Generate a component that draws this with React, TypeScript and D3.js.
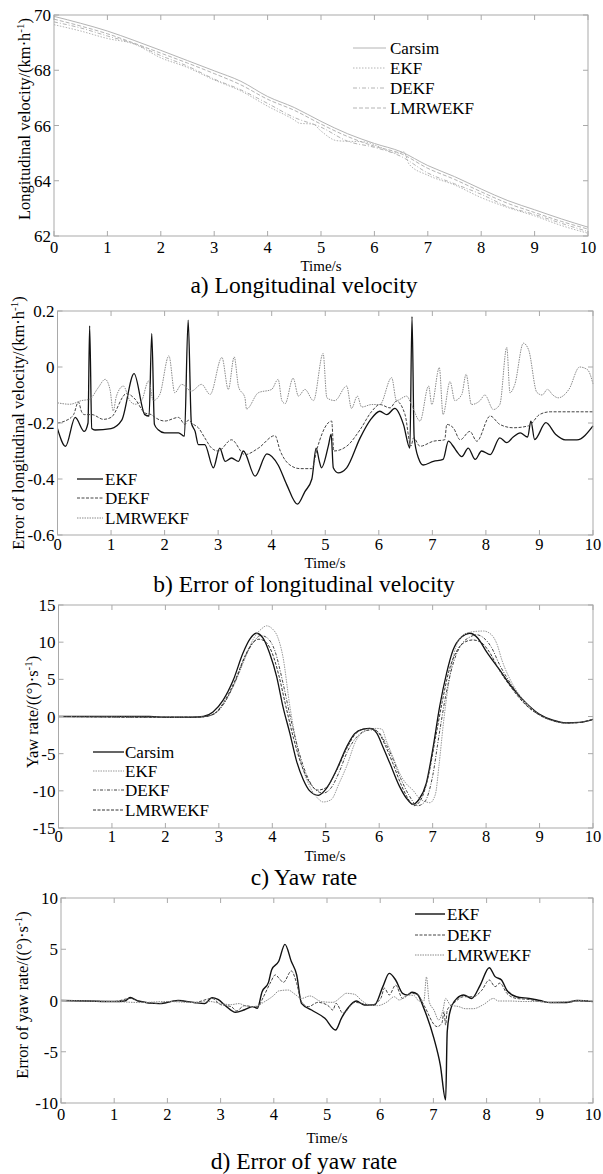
import React from 'react';
import * as d3 from 'd3';

const timeTicks = [0, 1, 2, 3, 4, 5, 6, 7, 8, 9, 10];

// a) longitudinal velocity
const velTicks = [62, 64, 66, 68, 70];
const velT = [0, 0.5, 1, 1.5, 2, 2.5, 3, 3.5, 4, 4.5, 5, 5.5, 6, 6.5, 7, 7.5, 8, 8.5, 9, 9.5, 10];
const velCarsim = [69.95, 69.7, 69.42, 69.08, 68.72, 68.35, 67.98, 67.6, 67.05, 66.65, 66.15, 65.7, 65.35, 65.05, 64.55, 64.15, 63.7, 63.28, 62.95, 62.62, 62.32];
const velLmr = [69.85, 69.6, 69.32, 68.98, 68.62, 68.26, 67.88, 67.47, 66.95, 66.55, 66.05, 65.6, 65.25, 64.98, 64.45, 64.05, 63.6, 63.18, 62.85, 62.53, 62.25];
const velDekf = [69.75, 69.53, 69.24, 68.96, 68.53, 68.15, 67.68, 67.29, 66.8, 66.29, 65.94, 65.43, 65.21, 64.88, 64.28, 63.89, 63.51, 63.06, 62.78, 62.46, 62.16];
const velEkfT = [0, 0.5, 1, 1.5, 2, 2.5, 3, 3.5, 4, 4.5, 4.6, 4.85, 5.0, 5.3, 5.85, 6.0, 6.45, 6.55, 6.65, 7, 7.5, 8, 8.5, 9, 9.5, 10];
const velEkf = [69.65, 69.42, 69.15, 68.95, 68.45, 68.1, 67.65, 67.25, 66.7, 66.2, 66.08, 66.05, 65.8, 65.45, 65.4, 65.3, 65.0, 65.05, 64.6, 64.2, 63.85, 63.39, 63.03, 62.73, 62.38, 62.1];

// b) error of longitudinal velocity
const velErrTicks = [-0.6, -0.4, -0.2, 0, 0.2];
const velErrEkfT = [0, 0.15, 0.33, 0.5, 0.57, 0.6, 0.64, 0.7, 1.0, 1.2, 1.43, 1.63, 1.71, 1.76, 1.81, 1.88, 2.0, 2.26, 2.37, 2.44, 2.5, 2.57, 2.63, 2.75, 2.91, 3.03, 3.13, 3.25, 3.38, 3.47, 3.69, 3.91, 4.12, 4.28, 4.48, 4.62, 4.75, 4.83, 4.89, 4.93, 5.06, 5.11, 5.15, 5.24, 5.4, 5.65, 5.84, 6.02, 6.15, 6.3, 6.46, 6.58, 6.62, 6.66, 6.74, 6.83, 7.02, 7.2, 7.3, 7.39, 7.45, 7.55, 7.67, 7.8, 7.92, 8.08, 8.26, 8.39, 8.51, 8.64, 8.78, 8.84, 8.91, 9.12, 9.3, 9.48, 9.7, 10];
const velErrEkf = [-0.22, -0.283, -0.18, -0.23, -0.2, 0.147, -0.22, -0.225, -0.22, -0.19, -0.024, -0.17, -0.175, 0.12, -0.205, -0.224, -0.235, -0.235, -0.247, 0.167, -0.2, -0.23, -0.277, -0.277, -0.36, -0.29, -0.337, -0.325, -0.337, -0.3, -0.39, -0.31, -0.35, -0.42, -0.49, -0.445, -0.4, -0.29, -0.337, -0.36, -0.28, -0.24, -0.36, -0.378, -0.36, -0.254, -0.19, -0.158, -0.17, -0.148, -0.205, -0.29, 0.18, -0.25, -0.325, -0.35, -0.337, -0.33, -0.265, -0.283, -0.3, -0.32, -0.29, -0.33, -0.3, -0.313, -0.253, -0.27, -0.25, -0.235, -0.25, -0.193, -0.259, -0.199, -0.24, -0.26, -0.26, -0.21];
const velErrDekfT = [0, 0.14, 0.3, 0.39, 0.45, 0.5, 0.64, 0.86, 1.0, 1.29, 1.45, 1.63, 1.75, 1.82, 2.0, 2.26, 2.38, 2.44, 2.54, 2.63, 2.75, 2.88, 3.0, 3.25, 3.5, 3.75, 4.06, 4.16, 4.34, 4.53, 4.75, 4.85, 5.03, 5.12, 5.16, 5.4, 5.65, 5.87, 6.02, 6.21, 6.33, 6.49, 6.6, 6.65, 6.77, 7.02, 7.23, 7.27, 7.39, 7.52, 7.7, 7.83, 8.08, 8.26, 8.51, 8.8, 9.0, 9.2, 9.6, 10];
const velErrDekf = [-0.2, -0.193, -0.17, -0.125, -0.16, -0.17, -0.17, -0.187, -0.18, -0.095, -0.115, -0.164, -0.17, -0.18, -0.193, -0.18, -0.205, -0.19, -0.205, -0.217, -0.253, -0.29, -0.3, -0.26, -0.313, -0.29, -0.245, -0.3, -0.35, -0.363, -0.363, -0.29, -0.205, -0.193, -0.3, -0.283, -0.224, -0.158, -0.134, -0.146, -0.122, -0.17, -0.283, -0.253, -0.283, -0.265, -0.26, -0.205, -0.217, -0.26, -0.23, -0.265, -0.175, -0.205, -0.217, -0.21, -0.17, -0.16, -0.16, -0.16];
const velErrLmrT = [0, 0.23, 0.45, 0.6, 0.76, 0.89, 0.98, 1.04, 1.1, 1.23, 1.35, 1.45, 1.57, 1.7, 1.79, 1.91, 2.08, 2.19, 2.32, 2.5, 2.69, 2.85, 3.07, 3.19, 3.3, 3.38, 3.5, 3.53, 3.75, 4.0, 4.12, 4.19, 4.25, 4.4, 4.5, 4.62, 4.78, 4.96, 5.03, 5.18, 5.4, 5.49, 5.6, 5.68, 5.87, 6.02, 6.24, 6.33, 6.52, 6.61, 6.77, 6.93, 6.99, 7.13, 7.2, 7.33, 7.42, 7.55, 7.63, 7.73, 7.89, 7.98, 8.14, 8.26, 8.39, 8.45, 8.54, 8.7, 8.8, 8.95, 9.05, 9.15, 9.25, 9.35, 9.55, 9.75, 9.9, 10];
const velErrLmr = [-0.128, -0.133, -0.12, -0.115, -0.074, -0.044, -0.08, -0.157, -0.104, -0.068, -0.12, -0.133, -0.12, -0.05, -0.12, -0.098, 0.04, -0.092, -0.062, -0.086, -0.062, -0.098, 0.034, -0.08, 0.036, -0.07, -0.11, -0.15, -0.092, -0.08, -0.044, -0.12, -0.131, -0.04, -0.104, -0.08, -0.12, 0.048, -0.11, -0.12, -0.068, -0.148, -0.104, -0.143, -0.134, -0.134, -0.038, -0.12, -0.104, -0.134, -0.193, -0.068, -0.134, -0.002, -0.17, -0.052, -0.12, -0.098, -0.026, -0.134, -0.12, -0.1, -0.152, -0.134, 0.07, -0.092, -0.062, 0.085, 0.06, -0.09, -0.1, -0.08, -0.1, -0.11, -0.08, 0.0, -0.01, -0.06];

// c) yaw rate
const yawTicks = [-15, -10, -5, 0, 5, 10, 15];
const yawCarsimT = [0, 1.7, 2.0, 2.5, 2.71, 2.89, 3.08, 3.27, 3.45, 3.58, 3.7, 3.83, 3.95, 4.08, 4.2, 4.33, 4.45, 4.58, 4.7, 4.86, 5.01, 5.2, 5.39, 5.54, 5.7, 5.82, 5.95, 6.07, 6.2, 6.38, 6.51, 6.63, 6.74, 6.88, 7.01, 7.13, 7.26, 7.38, 7.54, 7.69, 7.85, 8.0, 8.25, 8.5, 8.75, 9.0, 9.25, 9.5, 9.75, 10];
const yawCarsim = [0, 0, -0.1, -0.1, 0, 0.6, 2.2, 4.9, 8.5, 10.4, 11.2, 10.5, 8.5, 5.4, 1.3, -2.3, -5.9, -8.5, -10.0, -10.6, -9.7, -7.2, -4.1, -2.3, -1.7, -1.6, -2.2, -4.1, -6.3, -9.4, -11.0, -11.8, -11.2, -9.0, -4.1, 1.3, 5.8, 8.9, 10.7, 11.2, 10.5, 8.8, 6.3, 3.8, 1.8, 0.3, -0.5, -0.85, -0.8, -0.4];
const yawEkfT = [0, 2.5, 2.75, 2.95, 3.1, 3.3, 3.5, 3.65, 3.8, 3.89, 4.0, 4.1, 4.2, 4.33, 4.51, 4.7, 4.85, 4.95, 5.1, 5.25, 5.39, 5.57, 5.79, 5.95, 6.05, 6.13, 6.25, 6.38, 6.5, 6.63, 6.75, 6.88, 6.95, 7.05, 7.12, 7.2, 7.3, 7.4, 7.55, 7.75, 7.95, 8.1, 8.2, 8.3, 8.5, 8.75, 9.0, 9.25, 9.5, 9.75, 10];
const yawEkf = [0, -0.1, 0, 0.5, 1.8, 4.5, 8.0, 10.5, 11.8, 12.2, 11.8, 10.7, 8.0, 1.3, -5.4, -9.4, -11.0, -11.5, -11.2, -9.0, -6.7, -3.2, -1.8, -1.6, -1.7, -3.2, -5.3, -7.6, -9.0, -9.9, -11.0, -11.5, -11.6, -10.5, -6.5, -1.0, 4.5, 8.5, 10.8, 11.4, 11.5, 11.0, 9.8, 7.5, 4.3, 1.8, 0.2, -0.6, -0.9, -0.8, -0.4];
const yawDekfT = [0, 2.5, 2.75, 2.95, 3.1, 3.3, 3.5, 3.65, 3.78, 3.9, 4.05, 4.2, 4.35, 4.5, 4.65, 4.8, 4.95, 5.1, 5.25, 5.4, 5.6, 5.75, 5.88, 6.0, 6.12, 6.25, 6.4, 6.55, 6.72, 6.85, 7.0, 7.12, 7.25, 7.4, 7.55, 7.7, 7.82, 7.95, 8.1, 8.25, 8.5, 8.75, 9.0, 9.25, 9.5, 9.75, 10];
const yawDekf = [0, -0.1, 0, 0.5, 1.8, 4.6, 8.2, 10.0, 10.9, 10.6, 8.8, 4.5, -0.5, -4.8, -8.0, -9.8, -10.3, -9.6, -7.5, -4.8, -2.6, -1.9, -1.8, -2.2, -3.6, -5.6, -8.3, -10.5, -12.0, -11.5, -8.0, -2.5, 3.0, 7.5, 9.8, 10.7, 11.0, 10.6, 9.3, 7.0, 4.0, 1.6, 0.2, -0.55, -0.9, -0.8, -0.4];
const yawLmrT = [0, 2.5, 2.75, 2.95, 3.1, 3.3, 3.5, 3.62, 3.75, 3.88, 4.0, 4.12, 4.25, 4.4, 4.55, 4.7, 4.85, 5.0, 5.2, 5.4, 5.55, 5.7, 5.85, 6.0, 6.12, 6.25, 6.4, 6.52, 6.65, 6.78, 6.92, 7.05, 7.18, 7.3, 7.45, 7.6, 7.75, 7.9, 8.05, 8.25, 8.5, 8.75, 9.0, 9.25, 9.5, 9.75, 10];
const yawLmr = [0, -0.1, 0, 0.6, 2.0, 4.8, 8.3, 9.8, 10.4, 10.0, 8.5, 5.6, 1.5, -3.0, -6.6, -8.9, -9.9, -9.6, -7.3, -4.2, -2.4, -1.7, -1.6, -2.3, -4.0, -6.2, -9.0, -10.8, -12.0, -11.2, -8.0, -3.0, 2.0, 6.0, 8.8, 10.0, 10.3, 10.0, 8.8, 6.2, 3.6, 1.5, 0.2, -0.55, -0.85, -0.8, -0.4];

// d) error of yaw rate
const yawErrTicks = [-10, -5, 0, 5, 10];
const yawErrEkfT = [0, 0.5, 1.0, 1.2, 1.3, 1.45, 1.85, 2.2, 2.5, 2.7, 2.84, 2.95, 3.09, 3.28, 3.45, 3.6, 3.69, 3.78, 3.9, 3.96, 4.09, 4.21, 4.33, 4.43, 4.52, 4.71, 4.96, 5.16, 5.27, 5.39, 5.55, 5.7, 5.89, 6.05, 6.17, 6.29, 6.42, 6.51, 6.6, 6.7, 6.82, 7.01, 7.13, 7.23, 7.26, 7.32, 7.44, 7.57, 7.72, 7.88, 8.05, 8.16, 8.28, 8.38, 8.56, 8.8, 9.0, 9.2, 9.5, 9.7, 10];
const yawErrEkf = [0, -0.05, -0.1, -0.05, 0.3, -0.05, -0.3, 0, -0.2, -0.3, 0.28, 0.1, -0.5, -1.15, -0.9, -0.6, -0.76, 0.86, 1.77, 3.0, 3.8, 5.48, 3.8, 2.5, -0.28, -0.93, -1.74, -2.88, -1.74, -0.76, -0.05, -0.44, -0.44, 1.35, 2.65, 2.0, 0.7, 0.54, 0.8, 0.6, -0.76, -3.7, -6.3, -9.7, -3.04, -0.93, 0.2, 0.54, 0.2, 1.5, 3.2, 2.33, 2.0, 1.0, 0.37, 0.2, 0, -0.2, -0.2, 0, -0.1];
const yawErrDekfT = [0, 0.5, 1.0, 1.3, 1.45, 1.85, 2.2, 2.5, 2.84, 3.0, 3.2, 3.3, 3.45, 3.6, 3.7, 3.8, 3.93, 4.03, 4.1, 4.18, 4.33, 4.43, 4.52, 4.65, 4.83, 5.02, 5.11, 5.17, 5.3, 5.52, 5.83, 6.01, 6.08, 6.17, 6.29, 6.42, 6.57, 6.7, 6.82, 7.07, 7.16, 7.2, 7.23, 7.26, 7.38, 7.57, 7.75, 7.91, 8.05, 8.16, 8.25, 8.38, 8.56, 8.8, 9.0, 9.2, 9.5, 9.7, 10];
const yawErrDekf = [0, -0.05, -0.1, 0.2, -0.05, -0.3, 0, -0.2, 0.2, -0.4, -0.6, -1.0, -0.5, -0.6, -0.6, 0.3, 1.67, 2.5, 2.16, 1.77, 2.88, 1.67, -0.1, -0.6, -0.18, -0.5, -0.93, -0.28, -1.25, -0.18, -0.44, 0.2, 1.2, 0.54, 1.5, 0.2, 0.7, 0.6, -0.44, -2.55, -2.2, -1.1, -2.4, -0.93, -0.28, 0.37, 0.37, 1.0, 2.0, 1.35, 1.7, 0.7, 0.2, 0.1, -0.1, -0.2, -0.2, -0.05, -0.1];
const yawErrLmrT = [0, 0.5, 1.0, 1.5, 2.0, 2.5, 2.8, 3.0, 3.2, 3.35, 3.45, 3.6, 3.7, 3.8, 4.0, 4.09, 4.27, 4.4, 4.52, 4.68, 4.89, 5.11, 5.27, 5.36, 5.52, 5.64, 5.8, 5.95, 6.14, 6.26, 6.36, 6.51, 6.64, 6.73, 6.82, 6.87, 6.92, 7.01, 7.1, 7.18, 7.23, 7.32, 7.48, 7.6, 7.75, 7.94, 8.13, 8.22, 8.44, 8.7, 9.0, 9.2, 9.5, 9.8, 10];
const yawErrLmr = [0, -0.05, -0.1, -0.2, -0.1, -0.2, -0.1, -0.3, -0.4, -0.3, -0.5, -0.6, -0.5, -0.2, 0.5, 0.93, 1.02, 0.6, 0.2, 0.44, -0.1, -0.18, 0.37, 0.7, 0.6, 0.05, -0.44, -0.5, -0.1, 0.37, 0.05, 0.54, 0.47, -0.05, -0.05, 2.3, -0.1, -0.93, -1.9, -0.93, 0.2, -0.44, -0.6, -0.8, -0.8, -0.4, 0.2, -0.05, -0.05, -0.1, -0.1, -0.2, -0.1, 0, -0.1];

const FONT = "'Liberation Serif', 'Times New Roman', serif";
const FRAME = '#a9a9a9';

type Series = { name: string; t: number[]; v: number[]; color: string; width: number; dash?: string };

type PanelProps = {
  left: number; right: number; top: number; bottom: number;
  yDomain: [number, number]; yTicks: number[];
  series: Series[];
  yLabelPre: string; yLabelPost: string; yLabelX: number; yLabelY: number;
  legendX0: number; legendX1: number; legendTx: number; legendRows: number[];
  xLabelY: number; timeX: number; timeY: number;
  caption: string; captionY: number;
};

const Panel = (p: PanelProps) => {
  const x = d3.scaleLinear().domain([0, 10]).range([p.left, p.right]);
  const y = d3.scaleLinear().domain(p.yDomain).range([p.bottom, p.top]);
  const line = d3.line<[number, number]>().x(d => x(d[0])).y(d => y(d[1])).curve(d3.curveMonotoneX);
  const tl = 5;
  return (
    <g>
      {p.series.map(s => (
        <path key={s.name} d={line(d3.zip(s.t, s.v) as [number, number][]) ?? ''} fill="none"
          stroke={s.color} strokeWidth={s.width} strokeDasharray={s.dash} strokeLinejoin="round" />
      ))}
      <rect x={p.left} y={p.top} width={p.right - p.left} height={p.bottom - p.top} fill="none" stroke={FRAME} strokeWidth={1} />
      {timeTicks.map(t => (
        <g key={'xt' + t}>
          <line x1={x(t)} x2={x(t)} y1={p.bottom} y2={p.bottom - tl} stroke={FRAME} />
          <line x1={x(t)} x2={x(t)} y1={p.top} y2={p.top + tl} stroke={FRAME} />
          <text x={x(t)} y={p.xLabelY + 5} textAnchor="middle" fontSize={16.5} fontFamily={FONT}>{t}</text>
        </g>
      ))}
      {p.yTicks.map(v => (
        <g key={'yt' + v}>
          <line x1={p.left} x2={p.left + tl} y1={y(v)} y2={y(v)} stroke={FRAME} />
          <line x1={p.right} x2={p.right - tl} y1={y(v)} y2={y(v)} stroke={FRAME} />
          <text x={p.left - 3} y={y(v) + 6} textAnchor="end" fontSize={17} fontFamily={FONT}>{String(v)}</text>
        </g>
      ))}
      <text transform={`rotate(-90 ${p.yLabelX} ${p.yLabelY})`} x={p.yLabelX} y={p.yLabelY + 5}
        textAnchor="middle" fontSize={16.5} fontFamily={FONT}>
        {p.yLabelPre}<tspan dy={-6} fontSize={11}>-1</tspan><tspan dy={6}>{p.yLabelPost}</tspan>
      </text>
      {p.series.map((s, i) => (
        <g key={'lg' + s.name}>
          <line x1={p.legendX0} x2={p.legendX1} y1={p.legendRows[i]} y2={p.legendRows[i]}
            stroke={s.color} strokeWidth={s.width} strokeDasharray={s.dash} />
          <text x={p.legendTx} y={p.legendRows[i] + 6} fontSize={17} fontFamily={FONT}>{s.name}</text>
        </g>
      ))}
      <text x={p.timeX} y={p.timeY + 7.5} textAnchor="middle" fontSize={15} fontFamily={FONT}>Time/s</text>
      <text x={304} y={p.captionY + 7} textAnchor="middle" fontSize={23.5} fontFamily={FONT}>{p.caption}</text>
    </g>
  );
};

const LIGHT = '#b4b4b4';

export default function App() {
  return (
    <div style={{ position: 'absolute', left: 0, top: 0 }}>
      <svg width={603} height={1174} style={{ display: 'block', background: '#fff' }}>
        <Panel left={54} right={588} top={15} bottom={236} yDomain={[62, 70]} yTicks={velTicks}
          series={[
            { name: 'Carsim', t: velT, v: velCarsim, color: LIGHT, width: 1 },
            { name: 'EKF', t: velEkfT, v: velEkf, color: LIGHT, width: 1, dash: '1.5,1.5' },
            { name: 'DEKF', t: velT, v: velDekf, color: LIGHT, width: 1, dash: '4,2,1,2' },
            { name: 'LMRWEKF', t: velT, v: velLmr, color: LIGHT, width: 1, dash: '4,2' },
          ]}
          yLabelPre="Longitudinal velocity/(km·h" yLabelPost=")" yLabelX={25} yLabelY={119}
          legendX0={353} legendX1={386} legendTx={390} legendRows={[48, 68, 88, 108]}
          xLabelY={248} timeX={321} timeY={263} caption="a) Longitudinal velocity" captionY={286} />
        <Panel left={57.5} right={593} top={311} bottom={535} yDomain={[-0.6, 0.2]} yTicks={velErrTicks}
          series={[
            { name: 'EKF', t: velErrEkfT, v: velErrEkf, color: '#111', width: 1.3 },
            { name: 'DEKF', t: velErrDekfT, v: velErrDekf, color: '#444', width: 1, dash: '3,1.5' },
            { name: 'LMRWEKF', t: velErrLmrT, v: velErrLmr, color: '#8a8a8a', width: 1, dash: '1.5,1' },
          ]}
          yLabelPre="Error of longitudinal velocity/(km·h" yLabelPost=")" yLabelX={19} yLabelY={423}
          legendX0={77} legendX1={103} legendTx={105} legendRows={[479, 498, 518]}
          xLabelY={545} timeX={325} timeY={560} caption="b) Error of longitudinal velocity" captionY={585} />
        <Panel left={58.5} right={593} top={605} bottom={828} yDomain={[-15, 15]} yTicks={yawTicks}
          series={[
            { name: 'Carsim', t: yawCarsimT, v: yawCarsim, color: '#111', width: 1.3 },
            { name: 'EKF', t: yawEkfT, v: yawEkf, color: '#9a9a9a', width: 1, dash: '1.5,1' },
            { name: 'DEKF', t: yawDekfT, v: yawDekf, color: '#444', width: 1, dash: '3,1.5,1,1.5' },
            { name: 'LMRWEKF', t: yawLmrT, v: yawLmr, color: '#333', width: 1, dash: '3,1.5' },
          ]}
          yLabelPre="Yaw rate/((°)·s" yLabelPost=")" yLabelX={33} yLabelY={712}
          legendX0={93} legendX1={124} legendTx={125} legendRows={[752, 771, 790, 810]}
          xLabelY={837} timeX={325} timeY={853} caption="c) Yaw rate" captionY={878} />
        <Panel left={61} right={593} top={898} bottom={1103} yDomain={[-10, 10]} yTicks={yawErrTicks}
          series={[
            { name: 'EKF', t: yawErrEkfT, v: yawErrEkf, color: '#111', width: 1.4 },
            { name: 'DEKF', t: yawErrDekfT, v: yawErrDekf, color: '#444', width: 1, dash: '3,1.5' },
            { name: 'LMRWEKF', t: yawErrLmrT, v: yawErrLmr, color: '#8a8a8a', width: 1, dash: '1.5,1' },
          ]}
          yLabelPre="Error of yaw rate/((°)·s" yLabelPost=")" yLabelX={23} yLabelY={995}
          legendX0={415} legendX1={445} legendTx={447} legendRows={[914, 935, 955]}
          xLabelY={1115} timeX={327} timeY={1135} caption="d) Error of yaw rate" captionY={1162} />
      </svg>
    </div>
  );
}
